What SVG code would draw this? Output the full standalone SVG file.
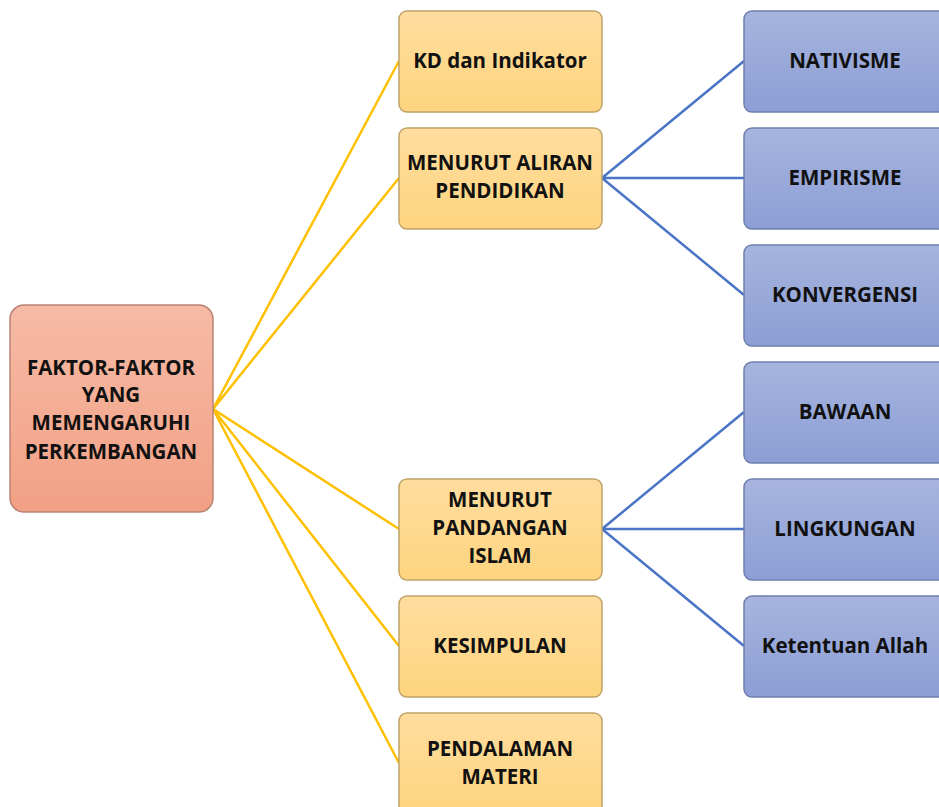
<svg xmlns="http://www.w3.org/2000/svg" width="939" height="807" viewBox="0 0 939 807">
<defs>
<linearGradient id="gRoot" x1="0" y1="0" x2="0" y2="1"><stop offset="0" stop-color="#F6BBA5"/><stop offset="1" stop-color="#F2A085"/></linearGradient>
<linearGradient id="gY" x1="0" y1="0" x2="0" y2="1"><stop offset="0" stop-color="#FFDD9E"/><stop offset="1" stop-color="#FED47F"/></linearGradient>
<linearGradient id="gB" x1="0" y1="0" x2="0" y2="1"><stop offset="0" stop-color="#A6B4DE"/><stop offset="1" stop-color="#8C9ED5"/></linearGradient>
</defs>
<style>
.root{fill:url(#gRoot);stroke:#B98474;stroke-width:1.5}
.y{fill:url(#gY);stroke:#BFA368;stroke-width:1.5}
.b{fill:url(#gB);stroke:#6F7FAD;stroke-width:1.5}
text{font-family:"Open Sans","Noto Sans","Liberation Sans",sans-serif;font-weight:bold;font-size:20.5px;fill:#111;text-anchor:middle}
.cy{stroke:#FFC000;stroke-width:2.5;fill:none}
.cb{stroke:#4A74C6;stroke-width:2.5;fill:none}
</style>
<rect width="939" height="807" fill="#fff"/>
<g id="connectors">
<path class="cy" d="M213 409L399 61M213 409L399 178M213 409L399 529M213 409L399 646M213 409L399 763"/>
<path class="cb" d="M602 178L744 61M602 178L744 178M602 178L744 295M602 529L744 412M602 529L744 529M602 529L744 646"/>
</g>
<g id="root"><rect class="root" x="10" y="305" width="203" height="207" rx="14"/>
<text x="111" y="375">FAKTOR-FAKTOR</text><text x="111" y="402">YANG</text><text x="111" y="430">MEMENGARUHI</text><text x="111" y="459">PERKEMBANGAN</text></g>
<g id="kd"><rect class="y" x="399" y="11" width="203" height="101" rx="8"/><text x="500" y="68">KD dan Indikator</text></g>
<g id="aliran"><rect class="y" x="399" y="128" width="203" height="101" rx="8"/><text x="500" y="170">MENURUT ALIRAN</text><text x="500" y="198">PENDIDIKAN</text></g>
<g id="islam"><rect class="y" x="399" y="479" width="203" height="101" rx="8"/><text x="500" y="507">MENURUT</text><text x="500" y="535">PANDANGAN</text><text x="500" y="563">ISLAM</text></g>
<g id="kesimpulan"><rect class="y" x="399" y="596" width="203" height="101" rx="8"/><text x="500" y="653">KESIMPULAN</text></g>
<g id="pendalaman"><rect class="y" x="399" y="713" width="203" height="101" rx="8"/><text x="500" y="756">PENDALAMAN</text><text x="500" y="784">MATERI</text></g>
<g id="nativisme"><rect class="b" x="744" y="11" width="210" height="101" rx="8"/><text x="845" y="68">NATIVISME</text></g>
<g id="empirisme"><rect class="b" x="744" y="128" width="210" height="101" rx="8"/><text x="845" y="185">EMPIRISME</text></g>
<g id="konvergensi"><rect class="b" x="744" y="245" width="210" height="101" rx="8"/><text x="845" y="302">KONVERGENSI</text></g>
<g id="bawaan"><rect class="b" x="744" y="362" width="210" height="101" rx="8"/><text x="845" y="419">BAWAAN</text></g>
<g id="lingkungan"><rect class="b" x="744" y="479" width="210" height="101" rx="8"/><text x="845" y="536">LINGKUNGAN</text></g>
<g id="ketentuan"><rect class="b" x="744" y="596" width="210" height="101" rx="8"/><text x="845" y="653">Ketentuan Allah</text></g>
</svg>
